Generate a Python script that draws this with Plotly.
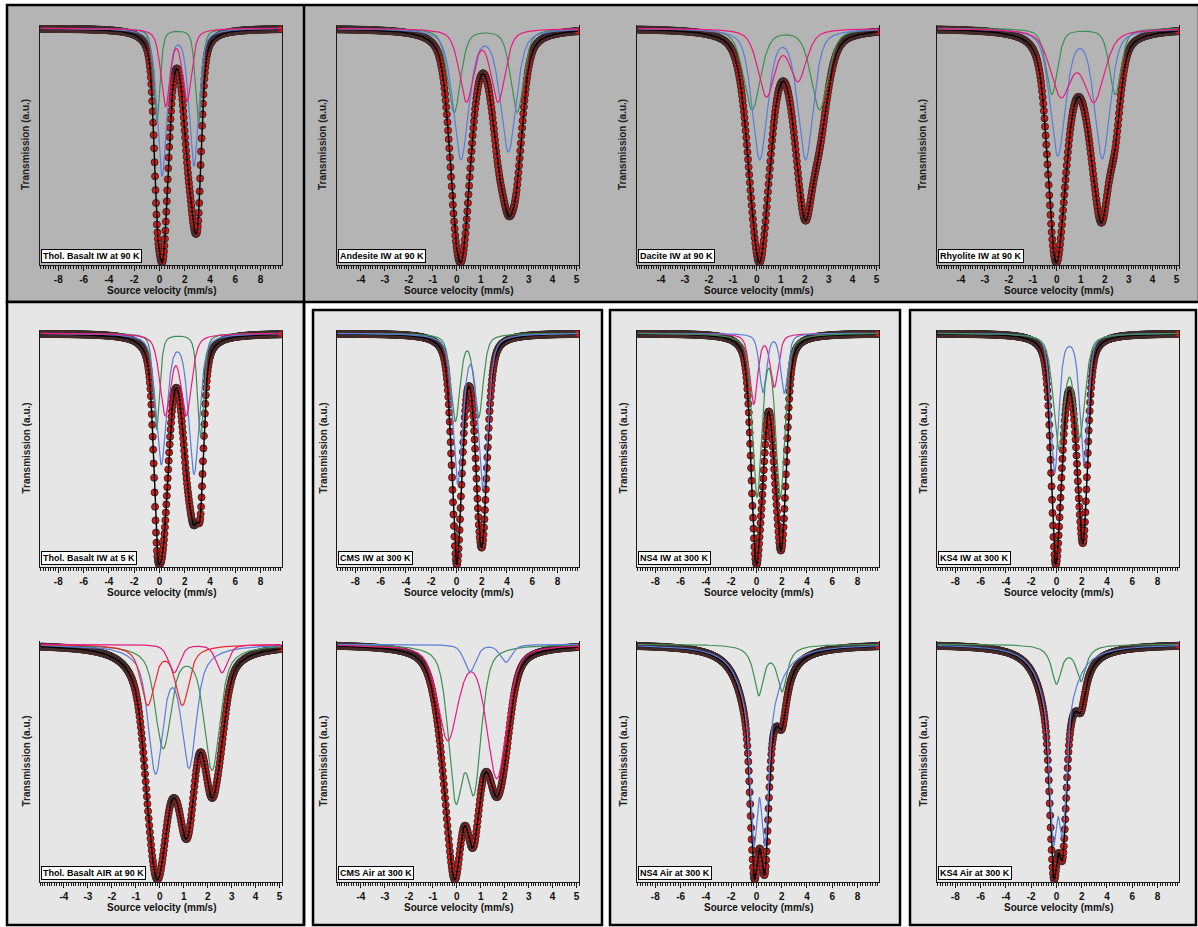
import numpy as np
import plotly.graph_objects as go

W, H = 1198, 927

# ---------------- data ----------------
PANEL_LABELS = [
    "Thol. Basalt IW at 90 K", "Andesite IW at 90 K", "Dacite IW at 90 K", "Rhyolite IW at 90 K",
    "Thol. Basalt IW at 5 K", "CMS IW at 300 K", "NS4 IW at 300 K", "KS4 IW at 300 K",
    "Thol. Basalt AIR at 90 K", "CMS Air at 300 K", "NS4 Air at 300 K", "KS4 Air at 300 K",
]
PANEL_WIDE = [True, False, False, False, True, True, True, True, False, False, True, True]

WIDE_TICKS = [-8, -6, -4, -2, 0, 2, 4, 6, 8]
NARROW_TICKS = [-4, -3, -2, -1, 0, 1, 2, 3, 4, 5]
WIDE_AXIS_RANGE = [-9.45, 9.7]
NARROW_AXIS_RANGE = [-5.0, 5.1]
WIDE_DATA_SPAN = [-9.38, 9.62]
NARROW_DATA_SPAN = [-4.96, 5.06]
WIDE_CHANNELS = 512
NARROW_CHANNELS = 400

# components: (colour, line centres mm/s, line depths a.u., gaussian hwhm, lorentzian hwhm, lorentz fraction)
THOL_IW_90K = [
    ("green", [-0.21, 3.10], [92, 92], 0.30, 0.30, 0.5),
    ("blue", [0.21, 2.73], [143, 133], 0.45, 0.45, 0.5),
    ("pink", [0.48, 2.18], [75, 70], 0.43, 0.43, 0.5),
]
ANDESITE_IW_90K = [
    ("green", [-0.11, 2.52], [84, 84], 0.32, 0.32, 0.5),
    ("blue", [0.17, 2.15], [130, 122], 0.385, 0.385, 0.5),
    ("pink", [0.40, 1.72], [72, 72], 0.35, 0.35, 0.5),
]
DACITE_IW_90K = [
    ("green", [-0.20, 2.62], [80, 80], 0.42, 0.42, 0.5),
    ("blue", [0.12, 2.04], [128, 128], 0.38, 0.38, 0.5),
    ("pink", [0.40, 1.72], [66, 50], 0.42, 0.42, 0.5),
]
RHYOLITE_IW_90K = [
    ("green", [-0.21, 2.44], [66, 66], 0.285, 0.285, 0.5),
    ("blue", [0.04, 1.90], [125, 128], 0.38, 0.38, 0.5),
    ("pink", [0.17, 1.55], [65, 70], 0.52, 0.52, 0.5),
]
THOL_IW_5K = [
    ("green", [-0.23, 3.27], [97, 105], 0.30, 0.30, 0.5),
    ("blue", [0.14, 2.74], [130, 140], 0.50, 0.50, 0.5),
    ("pink", [0.46, 2.13], [80, 80], 0.50, 0.50, 0.5),
]
CMS_IW_300K = [
    ("green", [-0.08, 1.76], [88, 84], 0.42, 0.42, 0.5),
    ("blue", [0.10, 2.11], [150, 155], 0.46, 0.46, 0.5),
]
NS4_IW_300K = [
    ("pink", [-0.22, 1.42], [72, 54], 0.37, 0.37, 0.5),
    ("blue", [0.52, 2.21], [60, 61], 0.33, 0.33, 0.5),
    ("green", [0.05, 1.90], [165, 165], 0.43, 0.43, 0.5),
]
KS4_IW_300K = [
    ("blue", [-0.14, 2.18], [145, 135], 0.38, 0.38, 0.5),
    ("green", [0.18, 1.84], [118, 105], 0.50, 0.50, 0.5),
]
THOL_AIR_90K = [
    ("green", [0.14, 2.18], [100, 122], 0.34, 0.50, 0.5),
    ("blue", [-0.18, 1.22], [122, 116], 0.30, 0.50, 0.5),
    ("red", [-0.51, 0.94], [58, 58], 0.28, 0.45, 0.5),
    ("pink", [0.60, 2.59], [28, 28], 0.28, 0.28, 0.5),
]
CMS_AIR_300K = [
    ("green", [-0.05, 0.72], [148, 138], 0.36, 0.36, 0.5),
    ("pink", [-0.38, 1.67], [95, 135], 0.50, 0.50, 0.5),
    ("blue", [0.55, 2.05], [28, 18], 0.28, 0.28, 0.5),
]
NS4_AIR_300K = [
    ("green", [0.18, 2.03], [48, 44], 0.46, 0.46, 1.0),
    ("blue", [-0.21, 0.68], [160, 160], 0.30, 1.05, 0.4),
]
KS4_AIR_300K = [
    ("green", [0.0, 1.95], [38, 35], 0.46, 0.46, 1.0),
    ("blue", [-0.25, 0.50], [160, 150], 0.30, 1.0, 0.4),
]
PANEL_COMPONENTS = [
    THOL_IW_90K, ANDESITE_IW_90K, DACITE_IW_90K, RHYOLITE_IW_90K,
    THOL_IW_5K, CMS_IW_300K, NS4_IW_300K, KS4_IW_300K,
    THOL_AIR_90K, CMS_AIR_300K, NS4_AIR_300K, KS4_AIR_300K,
]

# ---------------- styles / layout ----------------
COLORS = {"green": "#3f8f55", "blue": "#5b7cd9", "pink": "#ea1b80", "red": "#f02828"}
MARKER_FILL = "#e01515"
MARKER_LINE = "#2e2e2e"
FONT = "Liberation Sans, Arial, sans-serif"
DARK_BG = "#b4b4b4"
LIGHT_BG = "#e6e6e6"

COL_PX = [(40, 282), (337, 579), (637, 879), (937, 1179)]
ROW_PX = [(25, 265), (330, 567), (641, 882)]


def profile(v, c, hg, hl, eta):
    d = v - c
    return eta * hl ** 2 / (d ** 2 + hl ** 2) + (1 - eta) * np.exp(-np.log(2) * d ** 2 / hg ** 2)


def comp_abs(v, comp):
    _, centers, amps, hg, hl, eta = comp
    out = np.zeros_like(v)
    for c, a in zip(centers, amps):
        out = out + a * profile(v, c, hg, hl, eta)
    return out


def px_x(px):
    return px / W


def px_y(py):
    return 1 - py / H


fig = go.Figure()
layout_axes = {}
annotations = []

for i, comps in enumerate(PANEL_COMPONENTS):
    r, c = divmod(i, 4)
    k = i + 1
    xn = "x" if k == 1 else f"x{k}"
    yn = "y" if k == 1 else f"y{k}"
    xk = "xaxis" if k == 1 else f"xaxis{k}"
    yk = "yaxis" if k == 1 else f"yaxis{k}"
    wide = PANEL_WIDE[i]
    span = WIDE_DATA_SPAN if wide else NARROW_DATA_SPAN
    nch = WIDE_CHANNELS if wide else NARROW_CHANNELS
    arange = WIDE_AXIS_RANGE if wide else NARROW_AXIS_RANGE
    ticks = WIDE_TICKS if wide else NARROW_TICKS

    v_data = np.linspace(span[0], span[1], nch)
    v_fine = np.linspace(span[0], span[1], 2000)
    y_data = -sum(comp_abs(v_data, cp) for cp in comps)
    y_fit = -sum(comp_abs(v_fine, cp) for cp in comps)
    depth = -y_fit.min()

    fig.add_trace(go.Scatter(
        x=v_data, y=y_data, mode="markers", xaxis=xn, yaxis=yn, showlegend=False,
        hoverinfo="skip",
        marker=dict(size=7, color=MARKER_FILL, line=dict(color=MARKER_LINE, width=1)),
    ))
    fig.add_trace(go.Scatter(
        x=v_fine, y=y_fit, mode="lines", xaxis=xn, yaxis=yn, showlegend=False,
        hoverinfo="skip", line=dict(color="black", width=1.4),
    ))
    for cp in comps:
        fig.add_trace(go.Scatter(
            x=v_fine, y=-comp_abs(v_fine, cp), mode="lines", xaxis=xn, yaxis=yn,
            showlegend=False, hoverinfo="skip",
            line=dict(color=COLORS[cp[0]], width=1.2),
        ))

    x0, x1 = COL_PX[c]
    y0, y1 = ROW_PX[r]
    layout_axes[xk] = dict(
        domain=[px_x(x0), px_x(x1)], anchor=yn, range=arange,
        showline=True, linecolor="#1a1a1a", linewidth=1, mirror=False,
        showgrid=False, zeroline=False,
        tickmode="array", tickvals=ticks, ticktext=[str(t) for t in ticks],
        ticks="outside", ticklen=5, tickwidth=1, tickcolor="#1a1a1a",
        tickfont=dict(family=FONT, size=10, color="#111", weight="bold"),
        minor=dict(tickmode="linear", tick0=0, dtick=0.2 if wide else 0.1,
                   ticks="outside", ticklen=3, tickwidth=1, tickcolor="#1a1a1a",
                   showgrid=False),
        fixedrange=True,
    )
    layout_axes[yk] = dict(
        domain=[px_y(y1), px_y(y0)], anchor=xn,
        range=[-1.01 * depth, 0.014 * depth],
        showline=True, linecolor="#1a1a1a", linewidth=1, mirror=True,
        showgrid=False, zeroline=False, showticklabels=False, ticks="",
        fixedrange=True,
    )

    # sample label box
    annotations.append(dict(
        x=px_x(x0 + 1), y=px_y(y1 - 2), xref="paper", yref="paper",
        xanchor="left", yanchor="bottom", showarrow=False,
        text=PANEL_LABELS[i],
        font=dict(family=FONT, size=9, color="black", weight="bold"),
        bgcolor="white", bordercolor="black", borderwidth=1, borderpad=1,
    ))
    # axis titles
    annotations.append(dict(
        x=px_x((x0 + x1) / 2), y=px_y(y1 + 25), xref="paper", yref="paper",
        xanchor="center", yanchor="middle", showarrow=False,
        text="Source velocity (mm/s)",
        font=dict(family=FONT, size=10, color="#111", weight="bold"),
    ))
    annotations.append(dict(
        x=px_x(x0 - 14), y=px_y((y0 + y1) / 2), xref="paper", yref="paper",
        xanchor="center", yanchor="middle", showarrow=False, textangle=-90,
        text="Transmission (a.u.)",
        font=dict(family=FONT, size=10, color="#222", weight="bold"),
    ))


def rect(x0, y0, x1, y1, fill, lw=2.5):
    return dict(type="rect", xref="paper", yref="paper", layer="below",
                x0=px_x(x0), x1=px_x(x1), y0=px_y(y1), y1=px_y(y0),
                fillcolor=fill, line=dict(color="black", width=lw))


shapes = [
    rect(7, 5, 1199, 302, DARK_BG),
    rect(7, 302, 304, 925, LIGHT_BG),
    rect(313, 310, 602, 925, LIGHT_BG),
    rect(610, 310, 900, 925, LIGHT_BG),
    rect(910, 310, 1196, 925, LIGHT_BG),
    dict(type="line", xref="paper", yref="paper", layer="below",
         x0=px_x(304), x1=px_x(304), y0=px_y(925), y1=px_y(5),
         line=dict(color="black", width=2.5)),
]

fig.update_layout(
    width=W, height=H, margin=dict(l=0, r=0, t=0, b=0),
    paper_bgcolor="white", plot_bgcolor="rgba(0,0,0,0)",
    showlegend=False, shapes=shapes, annotations=annotations,
    **layout_axes,
)

fig.write_html("out.html", config={"displayModeBar": False})
